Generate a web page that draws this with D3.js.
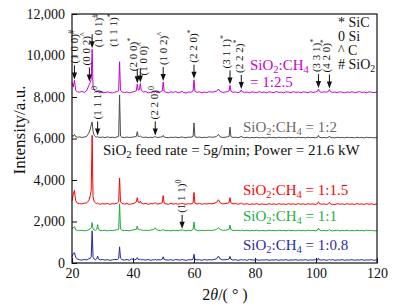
<!DOCTYPE html>
<html><head><meta charset="utf-8">
<script src="https://cdn.jsdelivr.net/npm/d3@7"></script>
<style>body{margin:0;background:#fff} svg{display:block} text{font-family:"Liberation Serif","Times New Roman",serif;}</style>
</head><body><svg id="c" width="394" height="306"></svg>
<script>
// 2θ angles (degrees)
const angles = [
 20,20.4,20.8,21.2,21.8,22.5,23.2,24,24.8,25.5,
 26.0,26.3,26.6,26.9,27.3,27.8,28.1,28.4,28.7,29.2,
 30,30.8,31.6,32.4,33.2,34,34.8,35.3,35.6,35.9,
 36.4,37.2,38,38.8,39.6,40.4,41.1,41.4,41.7,42.1,
 42.4,42.7,43.4,44.2,45,45.8,46.6,47.0,47.3,47.6,
 48.2,49,49.6,49.9,50.2,50.8,51.6,52.4,53.2,54,
 54.8,55.6,56.1,56.6,57.4,58.2,59,59.7,60.0,60.3,
 61,61.8,62.6,63.4,64.2,65,65.8,66.6,67.4,68.0,
 68.6,69.4,70.2,71.0,71.5,71.8,72.1,72.8,73.6,74.4,
 75.2,75.5,75.8,76.6,77.4,78.2,79,79.8,80.6,81.4,
 82.2,83,83.8,84.6,85.4,86.2,87,87.8,88.6,89.4,
 90.2,91,91.8,92.6,93.4,94.2,95,95.8,96.6,97.4,
 98.2,99,99.8,100.5,100.8,101.1,101.8,102.6,103.4,104.1,
 104.4,104.7,105.4,106.2,107,107.8,108.6,109.4,110.2,111,
 111.8,112.6,113.4,114.2,115,115.8,116.6,117.4,118.2,119,
 120];

const ratio_1_2_5 = [
 8700,8480,8800,8320,8250,8230,8270,8220,8300,8550,
 8700,8850,10300,8500,8330,8260,8240,8290,8230,8200,
 8240,8210,8250,8220,8190,8230,8260,8300,9700,8320,
 8250,8210,8240,8200,8230,8260,8300,8620,8330,8350,
 8650,8320,8240,8260,8200,8230,8250,8220,8280,8230,
 8200,8250,8300,8720,8290,8230,8200,8250,8220,8260,
 8200,8240,8270,8220,8190,8240,8230,8290,8830,8280,
 8220,8250,8200,8240,8210,8260,8230,8250,8280,8380,
 8270,8220,8240,8260,8300,8560,8290,8220,8250,8200,
 8260,8340,8250,8220,8240,8200,8250,8230,8210,8260,
 8220,8240,8200,8250,8230,8210,8260,8220,8240,8200,
 8250,8230,8210,8260,8220,8240,8200,8250,8230,8210,
 8250,8220,8240,8280,8380,8270,8220,8250,8230,8270,
 8360,8260,8220,8240,8210,8250,8230,8200,8240,8220,
 8250,8210,8230,8260,8220,8240,8200,8250,8230,8210,
 8240];

const ratio_1_2 = [
 6150,6100,6200,6090,6060,6080,6050,6070,6100,6250,
 6450,6650,6800,6350,6150,6080,6070,6100,6060,6050,
 6070,6040,6080,6050,6060,6040,6080,6100,8100,6120,
 6060,6040,6070,6050,6060,6080,6100,6330,6110,6090,
 6120,6080,6050,6070,6040,6060,6050,6080,6100,6060,
 6050,6070,6080,6150,6070,6050,6040,6060,6050,6070,
 6040,6060,6080,6050,6040,6070,6060,6100,6750,6090,
 6050,6070,6040,6060,6050,6080,6060,6070,6100,6200,
 6080,6050,6060,6080,6100,6550,6090,6050,6060,6040,
 6070,6120,6060,6040,6060,6030,6050,6040,6060,6030,
 6050,6040,6030,6060,6040,6050,6030,6060,6040,6050,
 6030,6060,6040,6050,6030,6060,6040,6050,6030,6060,
 6040,6050,6030,6060,6150,6060,6040,6050,6030,6060,
 6120,6050,6040,6030,6060,6040,6050,6030,6060,6040,
 6050,6030,6060,6040,6050,6030,6060,6040,6050,6030,
 6050];

const ratio_1_1_5 = [
 3000,3300,3500,3000,2880,2860,2850,2880,2900,3000,
 3250,3500,6150,3200,2950,2880,2860,2900,2850,2830,
 2860,2840,2870,2830,2860,2850,2880,2950,4100,2950,
 2870,2840,2860,2830,2850,2880,2950,3150,2930,2900,
 2980,2890,2850,2870,2830,2860,2850,2880,2900,2860,
 2840,2870,2900,3250,2890,2850,2830,2870,2840,2860,
 2830,2860,2880,2850,2830,2860,2840,2900,3400,2890,
 2840,2870,2830,2860,2840,2870,2850,2880,2920,3050,
 2900,2850,2860,2880,2920,3150,2900,2850,2870,2830,
 2860,2900,2850,2830,2860,2820,2850,2830,2860,2820,
 2850,2830,2820,2860,2830,2850,2820,2860,2830,2850,
 2820,2860,2830,2850,2820,2860,2830,2850,2820,2860,
 2830,2850,2820,2860,2950,2860,2830,2850,2820,2860,
 2920,2850,2830,2820,2860,2830,2850,2820,2860,2830,
 2850,2820,2860,2830,2850,2820,2860,2830,2850,2820,
 2850];

const ratio_1_1 = [
 1650,1700,1750,1600,1570,1560,1580,1550,1570,1600,
 1650,1700,1950,1640,1590,1580,1620,1850,1620,1570,
 1560,1580,1550,1570,1560,1580,1600,1620,2850,1640,
 1580,1560,1570,1550,1580,1600,1620,1780,1610,1590,
 1620,1590,1570,1580,1560,1590,1610,1640,1700,1620,
 1580,1560,1590,1620,1580,1560,1570,1550,1580,1560,
 1570,1580,1600,1570,1550,1580,1560,1620,1980,1610,
 1570,1550,1580,1560,1570,1580,1560,1590,1620,1700,
 1620,1570,1580,1600,1620,1830,1610,1570,1560,1580,
 1550,1600,1570,1560,1580,1550,1570,1560,1580,1550,
 1570,1560,1550,1580,1560,1570,1550,1580,1560,1570,
 1550,1580,1560,1570,1550,1580,1560,1570,1550,1580,
 1560,1570,1550,1580,1680,1590,1560,1570,1550,1580,
 1620,1570,1550,1560,1580,1550,1570,1560,1580,1550,
 1570,1550,1580,1560,1570,1550,1580,1560,1570,1550,
 1560];

const ratio_1_0_8 = [
 300,450,500,280,180,160,140,170,150,200,
 220,300,1550,280,180,160,200,330,190,150,
 170,140,160,130,150,170,160,220,780,230,
 160,140,170,130,200,150,180,260,170,160,
 200,150,160,140,170,130,160,150,180,140,
 160,150,180,300,170,150,140,160,130,170,
 150,140,170,150,130,160,150,180,420,170,
 150,160,130,170,140,160,150,170,200,330,
 190,150,160,170,190,320,180,140,160,130,
 150,170,140,160,130,170,150,140,160,130,
 150,140,160,130,150,140,160,130,150,140,
 160,130,150,140,160,130,150,140,160,130,
 150,140,160,130,230,150,140,160,130,150,
 180,140,160,130,150,140,160,130,150,140,
 160,130,150,140,160,130,150,140,160,130,
 150];

const seriesRatios = ["1:2.5","1:2","1:1.5","1:1","1:0.8"];
const seriesValues = [ratio_1_2_5, ratio_1_2, ratio_1_1_5, ratio_1_1, ratio_1_0_8];
const seriesColors = ["#CC00CC","#4a4a4a","#FF0000","#1FA83C","#2424A6"];
const labelColors  = ["#CC00CC","#6a6a6a","#FF0000","#22B040","#2B2BA8"];

const xTicks = [20,40,60,80,100,120];
const yTicks = [0,2000,4000,6000,8000,10000,12000];

// peak annotations: angle, intensity pointed at, Miller index, phase symbol
const annDeg   = [20.8, 25.7, 26.6, 35.6, 41.4, 42.4, 49.9, 60.0, 71.8, 75.5, 100.8, 104.4, 28.4, 47.3, 56.1];
const annValue = [8800, 8700, 10300, 9700, 8620, 8650, 8720, 8830, 8560, 8340, 8380, 8360, 6100, 6100, 1600];
const annHkl   = ["(1 0 0)","(0 0 2)","(1 0 1)","(1 1 1)","(2 0 0)","(1 0 0)","(1 0 2)","(2 2 0)","(3 1 1)","(2 2 2)","(3 3 1)","(4 2 0)","(1 1 1)","(2 2 0)","(1 1 1)"];
const annSym   = ["#","^","#","*","*","^","^","*","*","*","*","*","0","0","0"];
const annArrow = [true,true,true,false,true,true,true,true,true,true,true,true,true,true,true];
// layout offsets for the rotated labels (px)
const annDx    = [0,-3,6,-6,-4,3,0,-1,-4,-2,-2,-3,0,-1,-1];
const annDy    = [0,0,15,-12,4,9,0,0,0,0,0,0,0,0,0];

const legendSym  = ["*","0","^","#"];
const legendName = ["SiC","Si","C","SiO2"];

const svg = d3.select("#c");
const L=72,R=377,T=14,B=263;
const x = d3.scaleLinear().domain([20,120]).range([L,R]);
const y = d3.scaleLinear().domain([0,12000]).range([B,T]);

// axes
const gx = svg.append("g").attr("transform",`translate(0,${B})`)
  .call(d3.axisBottom(x).tickValues(xTicks).tickSize(-5).tickPadding(5).tickFormat(d3.format("d")));
const gy = svg.append("g").attr("transform",`translate(${L},0)`)
  .call(d3.axisLeft(y).tickValues(yTicks).tickSize(-5).tickPadding(7).tickFormat(d3.format(",")));
[gx,gy].forEach(g=>{
  g.select(".domain").remove();
  g.selectAll("text").attr("font-family","Liberation Serif").attr("font-size",14).attr("fill","#111");
  g.selectAll("line").attr("stroke","#111");
});

// series lines
const line = d3.line().x((d,i)=>x(angles[i])).y(d=>y(d));
seriesValues.forEach((vals,k)=>{
  svg.append("path").datum(vals).attr("d",line)
    .attr("fill","none").attr("stroke",seriesColors[k]).attr("stroke-width",1);
});

// frame
svg.append("rect").attr("x",L).attr("y",T).attr("width",R-L).attr("height",B-T)
  .attr("fill","none").attr("stroke","#111").attr("stroke-width",1.2);

// helper for SiO2:CH4 text
function ratioText(sel, ratio){
  sel.append("tspan").text("SiO");
  sel.append("tspan").text("2").attr("font-size","70%").attr("dy",3);
  sel.append("tspan").text(":CH").attr("dy",-3);
  sel.append("tspan").text("4").attr("font-size","70%").attr("dy",3);
  sel.append("tspan").text(ratio).attr("dy",-3);
}

// series labels
const labelY = [null,132,195,221,250];
seriesRatios.forEach((r,k)=>{
  if(k===0){
    const t1 = svg.append("text").attr("x",250).attr("y",70).attr("font-size",15).attr("fill",labelColors[0]);
    ratioText(t1,"");
    svg.append("text").attr("x",250).attr("y",87).attr("font-size",15).attr("fill",labelColors[0]).text("= "+r);
  } else {
    const t = svg.append("text").attr("x",243).attr("y",labelY[k]).attr("font-size",15).attr("fill",labelColors[k]);
    ratioText(t," = "+r);
  }
});

// condition text
const ct = svg.append("text").attr("x",103).attr("y",155).attr("font-size",15).attr("fill","#111");
ct.append("tspan").text("SiO");
ct.append("tspan").text("2").attr("font-size","70%").attr("dy",3);
ct.append("tspan").text(" feed rate = 5g/min; Power = 21.6 kW").attr("dy",-3);

// legend
legendSym.forEach((s,i)=>{
  const t = svg.append("text").attr("x",338).attr("y",27+i*14).attr("font-size",14).attr("fill","#111");
  t.append("tspan").text(s+" "+(legendName[i]==="SiO2"?"SiO":legendName[i]));
  if(legendName[i]==="SiO2") t.append("tspan").text("2").attr("font-size","70%").attr("dy",3);
});

// annotations
annDeg.forEach((d,i)=>{
  const ax = x(d), tip = y(annValue[i]) - 1;
  const len = 14;
  const g = svg.append("g");
  let top = tip;
  if(annArrow[i]){
    top = tip - len;
    g.append("line").attr("x1",ax).attr("x2",ax).attr("y1",top).attr("y2",tip-5)
      .attr("stroke","#111").attr("stroke-width",1);
    g.append("path").attr("d",`M${ax-2.6},${tip-7}L${ax+2.6},${tip-7}L${ax},${tip}Z`).attr("fill","#111");
  }
  const tx = ax + annDx[i], ty = top - 2 + annDy[i];
  const t = g.append("text").attr("transform",`translate(${tx},${ty}) rotate(-90)`)
    .attr("font-size",11).attr("fill","#111").attr("dy","0.35em");
  t.append("tspan").text(annHkl[i]);
  t.append("tspan").text(annSym[i]).attr("font-size",8).attr("dy",-4);
});

// axis titles
svg.append("text").attr("transform","translate(25,130) rotate(-90)").attr("text-anchor","middle")
  .attr("font-size",17).attr("fill","#111").text("Intensity/a.u.");
const xt = svg.append("text").attr("x",225).attr("y",300).attr("text-anchor","middle").attr("font-size",16).attr("fill","#111");
xt.append("tspan").text("2");
xt.append("tspan").text("θ").attr("font-style","italic");
xt.append("tspan").text("/( ° )");
</script></body></html>
